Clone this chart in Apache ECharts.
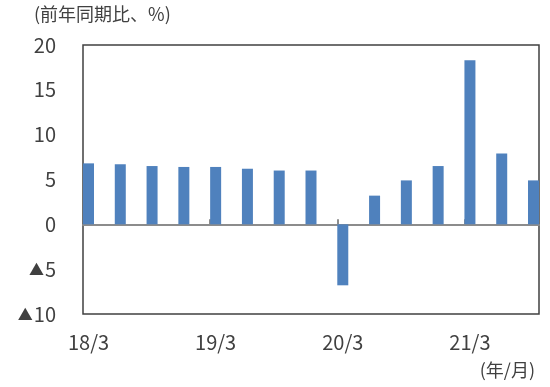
<!DOCTYPE html>
<html>
<head>
<meta charset="utf-8">
<script src="https://cdn.jsdelivr.net/npm/echarts@6/dist/echarts.min.js"></script>
<style>
html,body{margin:0;padding:0;background:#fff;}
#c{width:550px;height:387px;}
</style>
</head>
<body>
<div id="c"></div>
<script>
const categories = ['18/3','18/6','18/9','18/12','19/3','19/6','19/9','19/12','20/3','20/6','20/9','20/12','21/3','21/6','21/9'];
const growth = [6.8, 6.7, 6.5, 6.4, 6.4, 6.2, 6.0, 6.0, -6.8, 3.2, 4.9, 6.5, 18.3, 7.9, 4.9];
const labelIdx = [0, 4, 8, 12];
const yTicks = [-10, -5, 0, 5, 10, 15, 20];
const yUnit = '(前年同期比、%)';
const xUnit = '(年/月)';

const FONT = '"Noto Sans CJK JP", "Noto Sans", sans-serif';
const TXT = '#404040';
const pad = 0.173;
const chart = echarts.init(document.getElementById('c'), null, {renderer: 'canvas'});
chart.setOption({
  animation: false,
  grid: {left: 83, right: 11, top: 45, bottom: 73, show: true, borderColor: '#404040', borderWidth: 1.5, backgroundColor: 'transparent'},
  xAxis: [
    {
      type: 'value', min: -pad, max: categories.length - 1 + pad,
      axisLine: {show: true, onZero: true, lineStyle: {color: '#8c8c8c', width: 2}},
      axisTick: {show: true, inside: true, length: 5, customValues: labelIdx.slice(1).map(i => i - pad), lineStyle: {color: '#8c8c8c', width: 2}},
      axisLabel: {show: false},
      splitLine: {show: false}
    },
    {
      type: 'value', min: -pad, max: categories.length - 1 + pad, position: 'bottom',
      axisLine: {show: false, onZero: false},
      axisTick: {show: false},
      splitLine: {show: false},
      axisLabel: {show: true, customValues: labelIdx, formatter: v => categories[Math.round(v)], margin: 18,
        fontFamily: FONT, fontSize: 20, color: TXT}
    }
  ],
  yAxis: {
    type: 'value', min: yTicks[0], max: yTicks[yTicks.length - 1], interval: 5,
    axisLine: {show: false}, axisTick: {show: false}, splitLine: {show: false},
    axisLabel: {margin: 27, fontFamily: FONT, fontSize: 20, color: TXT,
      formatter: v => v < 0 ? '{t|▲}' + Math.abs(v) : String(v),
      rich: {t: {fontFamily: FONT, fontSize: 15, color: TXT, padding: [0, 1, 0, 0]}}}
  },
  graphic: [
    {type: 'text', left: 34, top: 5, style: {text: yUnit, font: '18px ' + FONT, fill: TXT}},
    {type: 'text', right: 15, top: 361, style: {text: xUnit, font: '18px ' + FONT, fill: TXT}}
  ],
  series: [{
    type: 'bar', xAxisIndex: 0, barWidth: 11,
    itemStyle: {color: '#4F81BD'},
    data: growth.map((v, i) => [i, v])
  }]
});
</script>
</body>
</html>
